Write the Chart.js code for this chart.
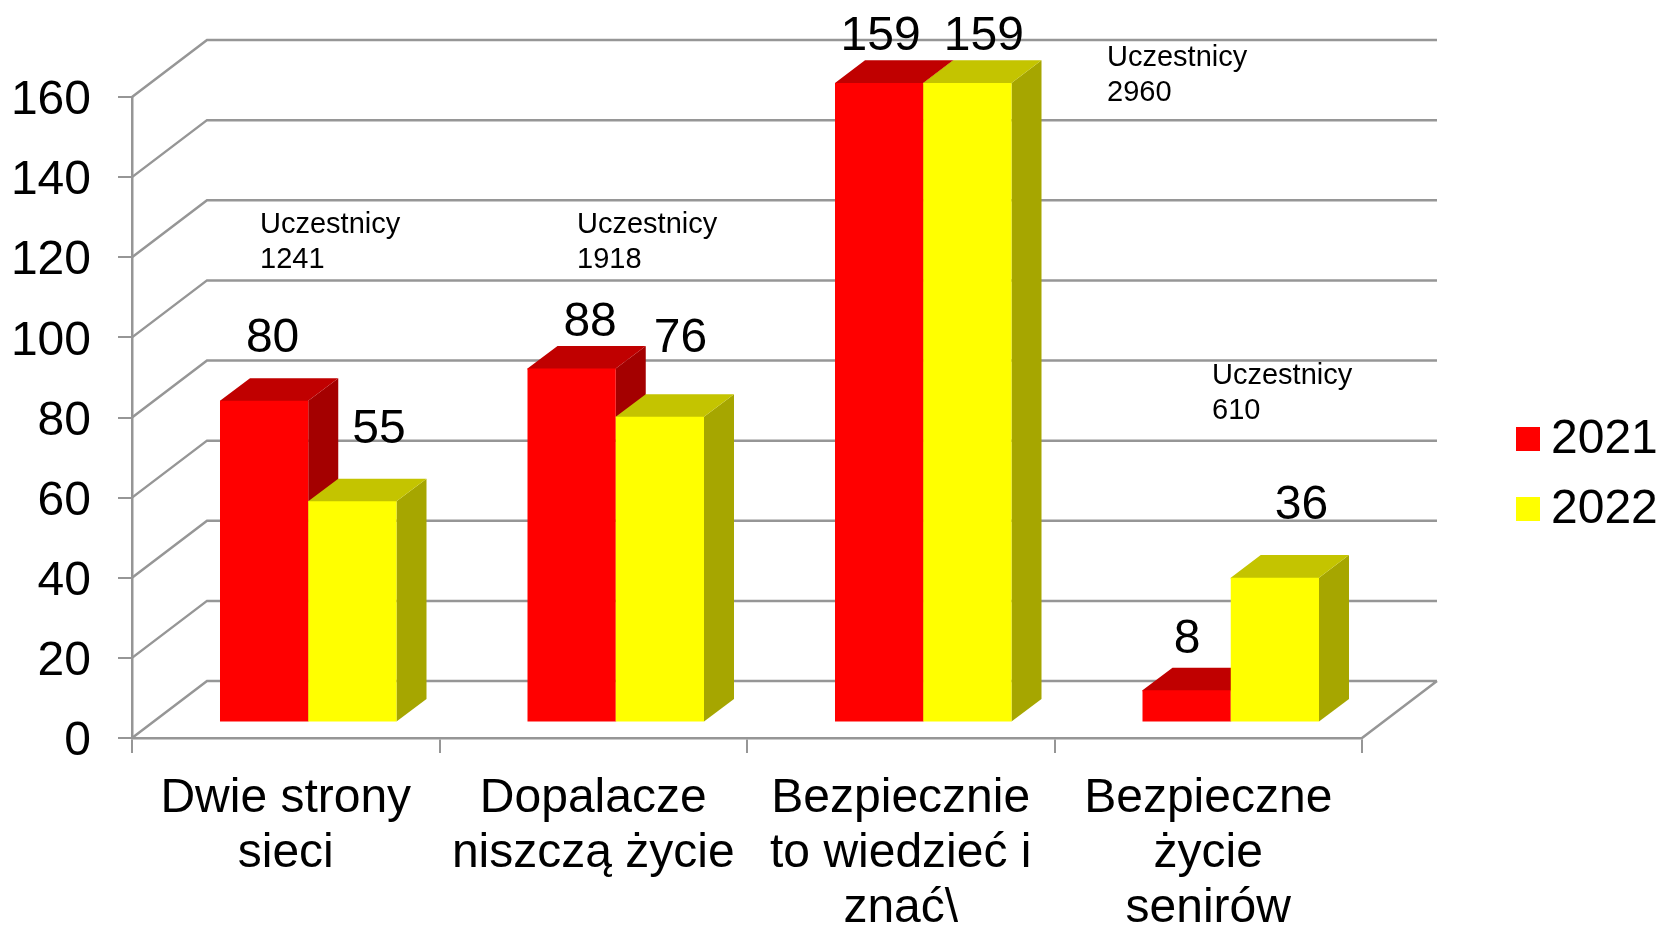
<!DOCTYPE html>
<html><head><meta charset="utf-8">
<style>html,body{margin:0;padding:0;background:#fff}canvas{display:block}</style>
<script src="https://cdn.jsdelivr.net/npm/chart.js@4"></script></head>
<body><canvas id="c" width="1661" height="926"></canvas>
<script>
const categories = [['Dwie strony','sieci'],['Dopalacze','niszczą życie'],['Bezpiecznie','to wiedzieć i','znać\\'],['Bezpieczne','życie','senirów']];
const series2021 = [80, 88, 159, 8];
const series2022 = [55, 76, 159, 36];
const yTicks = [0,20,40,60,80,100,120,140,160];
const notes = [['Uczestnicy','1241'],['Uczestnicy','1918'],['Uczestnicy','2960'],['Uczestnicy','610']];

const FONT = '"Liberation Sans", Arial, sans-serif';
const DEPTH_X = 75, DEPTH_Y = 57;        // wall depth
const BAR_DX = 22.5, BAR_DY = 15.5;      // bars plane offset from the front axis
const PLANE_SCALE = 1.004;               // bars plane is a touch taller than the front axis
const SIDE_X = 30, SIDE_Y = 22.5;        // bar depth
const labelShift = [[[9,-62.5],[27,-71.5]],[[19,-46.5],[21,-78.5]],[[2,-48.5],[17,-48.5]],[[1,-50],[27,-72]]];
const notePos = [[260,225],[577,225],[1107,58],[1212,376]];
const legendPos = {box:1516,text:1551,size:24,rows:[439,509],textDrop:1};

function shade(ctx,pts,color){ctx.fillStyle=color;ctx.beginPath();pts.forEach((p,i)=>i?ctx.lineTo(p[0],p[1]):ctx.moveTo(p[0],p[1]));ctx.closePath();ctx.fill();}

const scene = {
  id:'scene',
  beforeDatasetsDraw(chart){
    const {ctx,scales:{y},chartArea:a}=chart;
    // walls and floor
    ctx.save();ctx.strokeStyle='#969696';ctx.lineWidth=2.5;
    ctx.beginPath();
    yTicks.forEach(v=>{const py=y.getPixelForValue(v);
      ctx.moveTo(a.left,py);ctx.lineTo(a.left+DEPTH_X,py-DEPTH_Y);ctx.lineTo(a.right+DEPTH_X,py-DEPTH_Y);});
    ctx.moveTo(a.right,a.bottom);ctx.lineTo(a.right+DEPTH_X,a.bottom-DEPTH_Y);
    ctx.stroke();ctx.restore();
    // bars, series by series, left series first so the right one covers its side
    chart.data.datasets.forEach((ds,i)=>{
      const meta=chart.getDatasetMeta(i);
      ctx.save();
      ctx.translate(BAR_DX,a.bottom-BAR_DY);ctx.scale(1,PLANE_SCALE);ctx.translate(0,-a.bottom);
      meta.data.forEach(b=>{
        const l=b.x-b.width/2,r=b.x+b.width/2,t=b.y,bt=b.base;
        shade(ctx,[[r,t],[r+SIDE_X,t-SIDE_Y],[r+SIDE_X,bt-SIDE_Y],[r,bt]],ds.sideColor);
        shade(ctx,[[l,t+1],[l,t],[l+SIDE_X,t-SIDE_Y],[r+SIDE_X,t-SIDE_Y],[r,t],[r,t+1]],ds.topColor);
      });
      meta.controller.draw();
      ctx.restore();
    });
    return false;
  },
  afterDraw(chart){
    const {ctx}=chart;
    ctx.save();ctx.fillStyle='#000';ctx.textAlign='center';ctx.textBaseline='middle';
    ctx.font='48px '+FONT;
    chart.data.datasets.forEach((ds,i)=>{
      chart.getDatasetMeta(i).data.forEach((b,j)=>{
        const s=labelShift[j][i];
        ctx.fillText(String(ds.data[j]),b.x+22+s[0],b.y-16+s[1]);
      });
    });
    ctx.font='29px '+FONT;ctx.textAlign='left';
    notes.forEach((n,i)=>n.forEach((t,k)=>ctx.fillText(t,notePos[i][0],notePos[i][1]+k*35)));
    // legend
    ctx.font='48px '+FONT;
    chart.data.datasets.forEach((ds,i)=>{
      const yc=legendPos.rows[i];
      ctx.fillStyle=ds.backgroundColor;
      ctx.fillRect(legendPos.box,yc-legendPos.size/2,legendPos.size,legendPos.size);
      ctx.fillStyle='#000';
      ctx.fillText(ds.label,legendPos.text,yc+legendPos.textDrop);
    });
    ctx.restore();
  }
};

new Chart(document.getElementById('c'),{
  type:'bar',
  data:{labels:categories,datasets:[
    {label:'2021',data:series2021,backgroundColor:'#ff0000',sideColor:'#a40000',topColor:'#c00000'},
    {label:'2022',data:series2022,backgroundColor:'#ffff00',sideColor:'#a6a600',topColor:'#c4c400'}
  ]},
  options:{
    responsive:false,animation:false,
    layout:{padding:{left:0,top:97,right:299,bottom:0}},
    datasets:{bar:{barPercentage:1,categoryPercentage:0.574}},
    plugins:{tooltip:{enabled:false},legend:{display:false}},
    scales:{
      x:{grid:{drawOnChartArea:false,color:'#969696',lineWidth:2,tickLength:15},border:{color:'#969696',width:2.5},
        afterFit(s){s.height=188;},
        ticks:{color:'#000',font:{family:FONT,size:48,lineHeight:1.15},maxRotation:0,autoSkip:false,padding:18}},
      y:{min:0,max:160,grid:{drawOnChartArea:false,color:'#969696',lineWidth:2,tickLength:14},border:{color:'#969696',width:2.5},
        afterFit(s){s.width=132;},
        ticks:{stepSize:20,color:'#000',font:{family:FONT,size:48},padding:27,labelOffset:4}}
    }
  },
  plugins:[scene]
});
</script></body></html>
